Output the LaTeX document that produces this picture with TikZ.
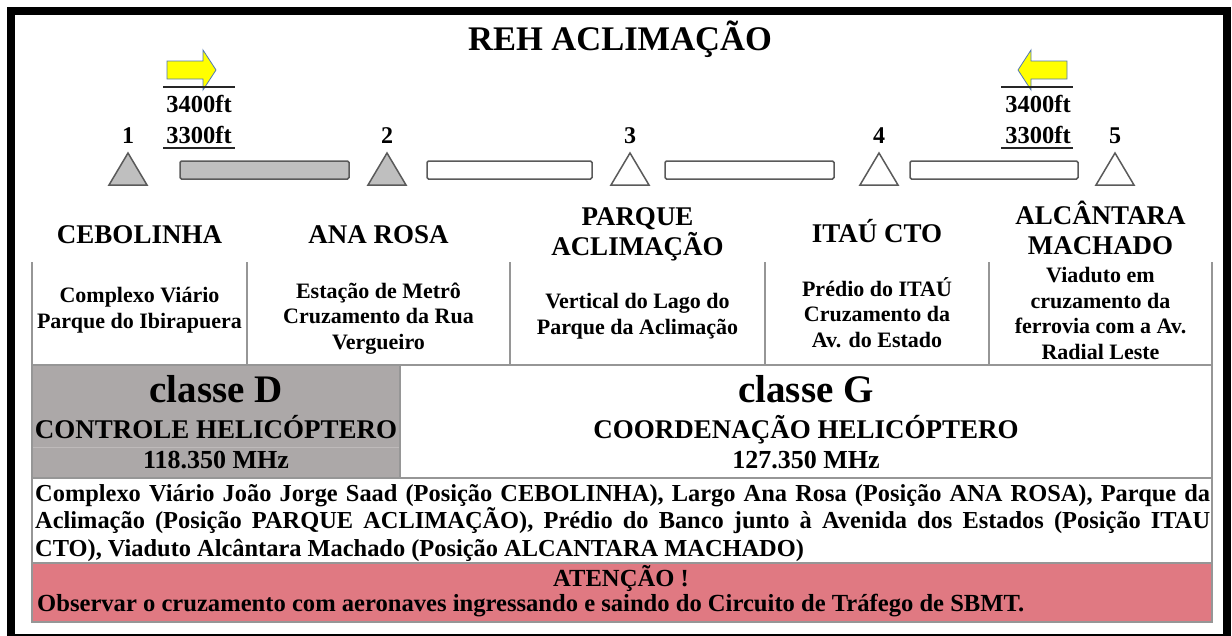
\documentclass[tikz,border=0pt]{standalone}
\usepackage{fontspec}
\setmainfont{Liberation Serif}
\definecolor{grayD}{RGB}{172,168,168}
\definecolor{grayDline}{RGB}{190,186,186}
\definecolor{pinkA}{RGB}{224,121,130}
\definecolor{triGray}{RGB}{191,191,191}
\definecolor{triEdge}{RGB}{90,90,90}
\definecolor{lineGray}{RGB}{150,150,150}
\definecolor{arrowYellow}{RGB}{255,255,0}
\definecolor{arrowEdge}{RGB}{80,120,180}
\newcommand{\tightspaces}{\spaceskip=0.25em plus 0.6em minus 0.15em\relax}
\tikzset{
  frame/.style={draw=black, line width=8pt},
  tri/.style={draw=triEdge, line width=1.5pt, line join=miter},
  barbox/.style={draw=triEdge, line width=1.5pt, rounded corners=1.5pt},
  yarrow/.style={fill=arrowYellow, draw=arrowEdge, line width=0.8pt},
  altline/.style={draw=black!85, line width=2pt},
  gridline/.style={draw=lineGray, line width=1.3pt},
  titletext/.style={anchor=base, inner sep=0pt, font=\fontsize{34.5}{40}\selectfont\bfseries},
  ft/.style={anchor=base, inner sep=0pt, font=\fontsize{24.5}{28}\selectfont\bfseries},
  num/.style={anchor=base, inner sep=0pt, font=\fontsize{24}{28}\selectfont\bfseries},
  station/.style={anchor=base, inner sep=0pt, align=center, font=\fontsize{27}{30}\selectfont\bfseries},
  desc/.style={anchor=base, inner sep=0pt, align=center, font=\fontsize{22}{25.5}\selectfont\bfseries},
  classe/.style={anchor=base, inner sep=0pt, font=\fontsize{39}{44}\selectfont\bfseries},
  sub/.style={anchor=base, inner sep=0pt, font=\fontsize{27}{30}\selectfont\bfseries},
  freq/.style={anchor=base, inner sep=0pt, font=\fontsize{26}{30}\selectfont\bfseries},
  para/.style={anchor=base west, inner sep=0pt, text width=1175pt, align=justify,
    font=\fontsize{24.4}{27.5}\selectfont\bfseries},
  warn/.style={anchor=base, inner sep=0pt, font=\fontsize{24.6}{27}\selectfont\bfseries},
}
\begin{document}
\begin{tikzpicture}[x=1pt,y=-1pt]
\useasboundingbox (0,0) rectangle (1232,635);
\fill[white] (0,0) rectangle (1232,635);

% title
\node[titletext] (title) at (620,50) {REH ACLIMAÇÃO};

% left direction arrow and altitudes
\draw[yarrow] (167,61) -- (203,61) -- (203,50) -- (216,70) -- (203,90) -- (203,79) -- (167,79) -- cycle;
\coordinate (l1a) at (163,87); \coordinate (l1b) at (235,87);
\draw[altline] (l1a) -- (l1b);
\node[ft] (alt1hi) at (199,112) {3400ft};
\node[ft] (alt1lo) at (199,143) {3300ft};
\coordinate (l2a) at (163,148); \coordinate (l2b) at (235,148);
\draw[altline] (l2a) -- (l2b);

% right direction arrow and altitudes
\draw[yarrow] (1067,61) -- (1031,61) -- (1031,50) -- (1018,70) -- (1031,90) -- (1031,79) -- (1067,79) -- cycle;
\coordinate (r1a) at (1001,87); \coordinate (r1b) at (1073,87);
\draw[altline] (r1a) -- (r1b);
\node[ft] (alt2hi) at (1038,112) {3400ft};
\node[ft] (alt2lo) at (1038,143) {3300ft};
\coordinate (r2a) at (1001,148); \coordinate (r2b) at (1073,148);
\draw[altline] (r2a) -- (r2b);

% numbers
\node[num] (n1) at (128,143) {1};
\node[num] (n2) at (387,143) {2};
\node[num] (n3) at (630,143) {3};
\node[num] (n4) at (879,143) {4};
\node[num] (n5) at (1115,143) {5};

% triangles
\draw[tri, fill=triGray] (128,153) -- (147,185) -- (109,185) -- cycle;
\draw[tri, fill=triGray] (387,153) -- (406,185) -- (368,185) -- cycle;
\draw[tri, fill=white] (630,153) -- (649,185) -- (611,185) -- cycle;
\draw[tri, fill=white] (879,153) -- (898,185) -- (860,185) -- cycle;
\draw[tri, fill=white] (1115,153) -- (1134,185) -- (1096,185) -- cycle;

% bars
\draw[barbox, fill=triGray] (180,161) rectangle (349,179);
\draw[barbox, fill=white] (427,161) rectangle (592,179);
\draw[barbox, fill=white] (665,161) rectangle (834,179);
\draw[barbox, fill=white] (910,161) rectangle (1078,179);

% station names (base = last line)
\node[station] (s1) at (139.5,243) {CEBOLINHA};
\node[station] (s2) at (378.5,243) {ANA ROSA};
\node[station] (s3) at (637.5,255) {PARQUE\\ACLIMAÇÃO};
\node[station] (s4) at (877,242) {ITAÚ CTO};
\node[station] (s5) at (1100.5,254) {ALCÂNTARA\\MACHADO};

% fills
\fill[grayD] (32,365) rectangle (400,478);
\draw[draw=grayDline, line width=1pt] (33,447) -- (399,447);
\fill[pinkA] (32,563) rectangle (1212,622);

% descriptions (base = last line)
\node[desc] (d1) at (139.5,328) {Complexo Viário\\Parque do Ibirapuera};
\node[desc] (d2) at (378.5,349) {Estação de Metrô\\Cruzamento da Rua\\Vergueiro};
\node[desc] (d3) at (637.5,334) {Vertical do Lago do\\Parque da Aclimação};
\node[desc] (d4) at (877,347) {Prédio do ITAÚ\\Cruzamento da\\Av. do Estado};
\node[desc] (d5) at (1100.5,359) {Viaduto em\\cruzamento da\\ferrovia com a Av.\\Radial Leste};

% class row
\node[classe] (cD) at (216,402) {classe D};
\node[sub] (cDs) at (216,438) {CONTROLE HELICÓPTERO};
\node[freq] (cDf) at (216,468) {118.350 MHz};
\node[classe] (cG) at (806,402) {classe G};
\node[sub] (cGs) at (806,438) {COORDENAÇÃO HELICÓPTERO};
\node[freq] (cGf) at (806,468) {127.350 MHz};

% paragraph
\node[para] (p) at (35,501) {\tightspaces Complexo Viário João Jorge Saad (Posição CEBOLINHA), Largo Ana Rosa (Posição ANA ROSA), Parque da\linebreak Aclimação (Posição PARQUE ACLIMAÇÃO), Prédio do Banco junto à Avenida dos Estados (Posição ITAU\linebreak CTO), Viaduto Alcântara Machado (Posição ALCANTARA MACHADO)};

% warning
\node[warn] (w1) at (621,586) {ATENÇÃO !};
\node[warn, anchor=base west] (w2) at (37,611) {Observar o cruzamento com aeronaves ingressando e saindo do Circuito de Tráfego de SBMT.};

% grid lines
\draw[gridline] (32,262) -- (32,622) -- (1212,622) -- (1212,262);
\draw[gridline] (247,262) -- (247,365);
\draw[gridline] (510,262) -- (510,365);
\draw[gridline] (765,262) -- (765,365);
\draw[gridline] (989,262) -- (989,365);
\draw[gridline] (32,365) -- (1212,365);
\draw[gridline] (400,365) -- (400,478);
\draw[gridline] (32,478) -- (1212,478);
\draw[gridline] (32,563) -- (1212,563);

% outer frame
\draw[frame] (11,11) rectangle (1227,638);
\end{tikzpicture}
\end{document}
